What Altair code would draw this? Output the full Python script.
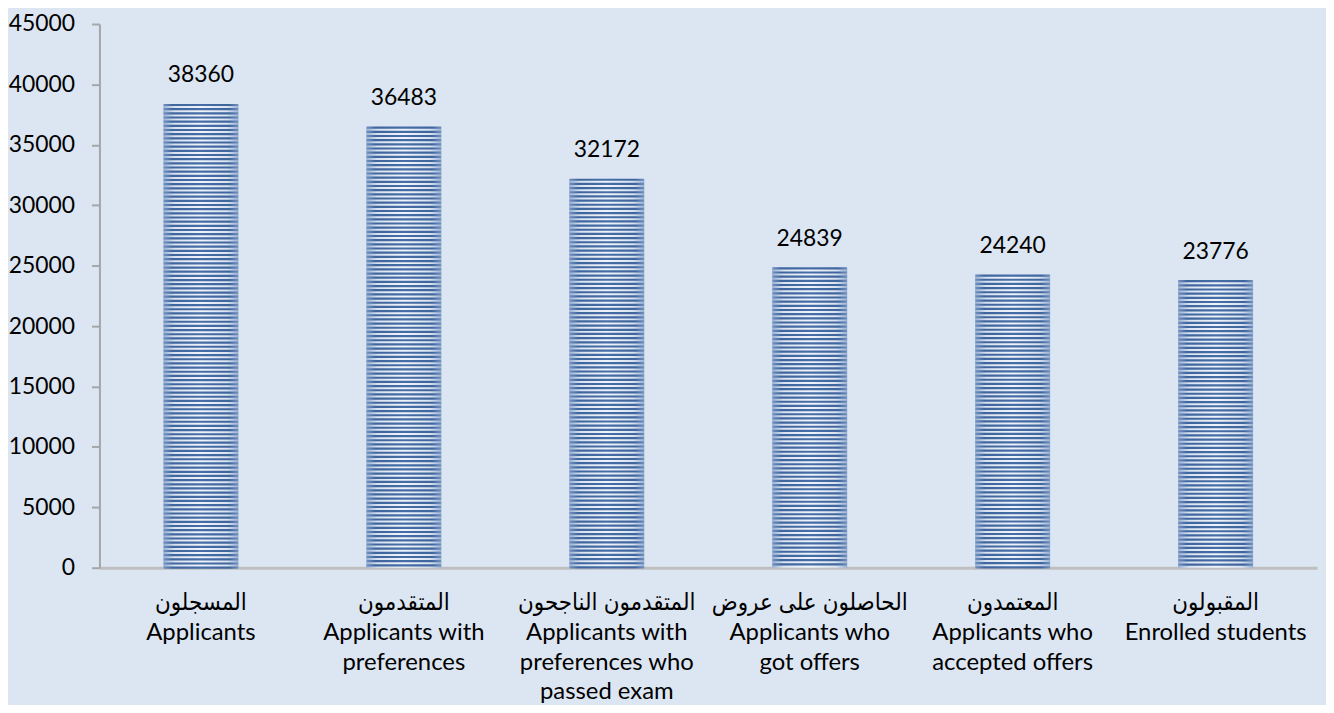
import altair as alt
import pandas as pd

cats_ar = ["المسجلون", "المتقدمون", "المتقدمون الناجحون", "الحاصلون على عروض", "المعتمدون", "المقبولون"]
cats_en = [
    "Applicants",
    "Applicants with|preferences",
    "Applicants with|preferences who|passed exam",
    "Applicants who|got offers",
    "Applicants who|accepted offers",
    "Enrolled students",
]
values = [38360, 36483, 32172, 24839, 24240, 23776]
y_ticks = [0, 5000, 10000, 15000, 20000, 25000, 30000, 35000, 40000, 45000]

labels = [a + "|" + e for a, e in zip(cats_ar, cats_en)]
df = pd.DataFrame({"cat": labels, "value": values})

FONT = "Lato, 'DejaVu Sans Condensed', sans-serif"

x_enc = alt.X(
    "cat:N",
    sort=None,
    scale=alt.Scale(paddingInner=0.63, paddingOuter=0.315),
    axis=alt.Axis(
        title=None,
        labelAngle=0,
        ticks=False,
        domainColor="#BFBFBF",
        domainWidth=3,
        labelExpr="split(datum.label, '|')",
        labelFont=FONT,
        labelFontSize=24,
        labelColor="#000000",
        labelLineHeight=30,
        labelPadding=23,
        labelLimit=400,
        labelBaseline="top",
    ),
)
y_enc = alt.Y(
    "value:Q",
    scale=alt.Scale(domain=[0, 45000], nice=False),
    axis=alt.Axis(
        title=None,
        values=y_ticks,
        format="d",
        grid=False,
        domainColor="#A6A6A6",
        domainWidth=2,
        tickColor="#A6A6A6",
        tickWidth=2,
        tickSize=8,
        labelPadding=17,
        labelFont=FONT,
        labelFontSize=23,
        labelColor="#000000",
    ),
)

bar_grad = alt.LinearGradient(
    gradient="linear",
    x1=0, x2=1, y1=0, y2=0,
    stops=[
        alt.GradientStop(color="#98B1D4", offset=0),
        alt.GradientStop(color="#D8E2F0", offset=0.15),
        alt.GradientStop(color="#F0F4FA", offset=0.5),
        alt.GradientStop(color="#D8E2F0", offset=0.85),
        alt.GradientStop(color="#98B1D4", offset=1),
    ],
)
stripe_grad = alt.LinearGradient(
    gradient="linear",
    x1=0, x2=1, y1=0, y2=0,
    stops=[
        alt.GradientStop(color="#7391BE", offset=0),
        alt.GradientStop(color="#3F659D", offset=0.12),
        alt.GradientStop(color="#466DA6", offset=0.5),
        alt.GradientStop(color="#3F659D", offset=0.88),
        alt.GradientStop(color="#7391BE", offset=1),
    ],
)

base = alt.Chart(df)

bars = base.mark_bar(color=bar_grad).encode(x=x_enc, y=y_enc)

stripes = (
    base.transform_calculate(s="sequence(datum.value - 60, 0, -345)")
    .transform_flatten(["s"])
    .mark_tick(color=stripe_grad, thickness=2.2, size=75, opacity=1)
    .encode(x=alt.X("cat:N", sort=None), y=alt.Y("s:Q"))
)

texts = base.mark_text(
    dy=-29, baseline="middle", font=FONT, fontSize=23, color="#000000"
).encode(x=alt.X("cat:N", sort=None), y=alt.Y("value:Q"), text=alt.Text("value:Q", format="d"))

chart = (
    alt.layer(bars, stripes, texts)
    .properties(
        width=1225,
        height=547,
        autosize=alt.AutoSizeParams(type="none"),
        padding={"left": 92, "top": 14, "right": 9, "bottom": 136},
        background="#DCE6F2",
    )
    .configure_view(stroke=None)
)

chart.save("out.html", embed_options={"renderer": "svg", "actions": False})
